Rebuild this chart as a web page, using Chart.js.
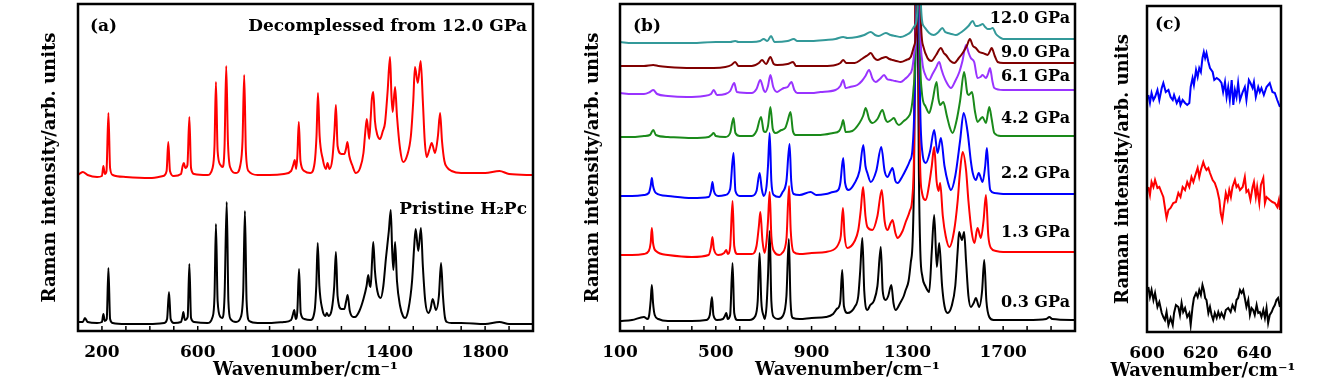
<!DOCTYPE html>
<html>
<head>
<meta charset="utf-8">
<script src="https://cdn.jsdelivr.net/npm/chart.js@4.4.0/dist/chart.umd.min.js"></script>
<style>
  body { margin: 0; background: #fff; width: 1339px; height: 386px; position: relative; overflow: hidden; }
  canvas { position: absolute; top: 0; }
</style>
</head>
<body>
<canvas id="chartA" width="540" height="386" style="left:0px"></canvas>
<canvas id="chartB" width="540" height="386" style="left:545px"></canvas>
<canvas id="chartC" width="249" height="386" style="left:1090px"></canvas>
<script>
// spectra: [wavenumber, height above the bottom of the frame]

// panel (a)
const decompressed = [[100,156],[120,159],[140,156],[180,154],[200,155],[206,165],[212,157],[219,160],[227,218],[234,163],[245,156],[300,154],[400,153],[455,155],[470,160],[477,189],[484,160],[500,155],[530,157],[537,165],[542,168],[548,163],[557,166],[565,214],[572,163],[585,157],[640,156],[662,163],[670,185],[676,249],[683,180],[695,166],[704,164],[712,185],[719,265],[726,190],[735,164],[760,158],[778,166],[787,190],[794,256],[801,180],[812,160],[850,156],[900,156],[960,157],[990,160],[1000,167],[1005,171],[1011,162],[1016,175],[1022,209],[1029,170],[1045,160],[1070,158],[1088,168],[1096,195],[1102,238],[1109,195],[1122,172],[1135,162],[1142,168],[1150,162],[1162,172],[1171,200],[1177,226],[1184,185],[1200,177],[1212,177],[1219,182],[1225,189],[1233,175],[1245,166],[1260,158],[1278,163],[1292,178],[1300,200],[1306,212],[1316,192],[1322,212],[1327,232],[1333,239],[1340,210],[1350,196],[1361,192],[1373,200],[1382,208],[1393,240],[1403,274],[1409,235],[1414,219],[1424,244],[1432,215],[1445,182],[1458,169],[1475,176],[1490,195],[1500,230],[1507,264],[1519,248],[1531,270],[1540,230],[1548,190],[1556,174],[1568,182],[1577,188],[1591,178],[1603,195],[1612,218],[1620,190],[1630,170],[1640,164],[1660,160],[1700,158],[1800,158],[1860,160],[1900,157],[2000,156]];
const pristine = [[100,9],[120,9],[129,13],[140,9],[180,8],[200,9],[206,17],[212,10],[220,12],[227,63],[234,12],[245,8],[300,7],[400,7],[460,8],[472,12],[480,39],[487,12],[500,8],[530,9],[536,14],[540,19],[546,11],[558,14],[565,67],[572,13],[585,9],[640,8],[662,14],[670,35],[676,107],[683,30],[695,14],[703,13],[712,35],[721,129],[728,30],[737,12],[760,9],[780,14],[790,40],[797,120],[804,30],[815,10],[850,8],[900,8],[960,9],[990,11],[998,17],[1003,21],[1009,12],[1016,20],[1023,62],[1030,18],[1045,12],[1070,11],[1088,20],[1095,45],[1101,88],[1108,45],[1120,22],[1133,15],[1139,18],[1146,15],[1160,22],[1170,45],[1177,79],[1184,35],[1200,22],[1212,22],[1220,30],[1226,36],[1235,20],[1250,14],[1257,14],[1275,20],[1292,32],[1305,45],[1312,56],[1318,46],[1322,44],[1328,70],[1333,89],[1340,60],[1350,40],[1364,33],[1375,45],[1386,73],[1398,100],[1406,121],[1412,80],[1417,61],[1424,89],[1432,50],[1445,25],[1457,15],[1466,13],[1480,22],[1495,50],[1504,85],[1510,102],[1521,80],[1532,103],[1540,65],[1550,30],[1563,18],[1572,22],[1581,32],[1595,21],[1607,35],[1616,68],[1624,35],[1632,14],[1640,9],[1660,8],[1700,8],[1800,7],[1860,9],[1900,7],[2000,7]];

// panel (b), one spectrum per pressure
const gpa03 = [[100,10],[150,11],[200,14],[215,12],[222,16],[228,30],[233,46],[238,28],[245,16],[260,12],[300,10],[400,10],[460,11],[475,16],[484,34],[490,16],[505,11],[530,12],[538,15],[544,18],[550,12],[560,16],[570,68],[577,18],[590,11],[640,11],[665,15],[675,30],[683,78],[690,30],[700,15],[705,12],[712,25],[718,55],[725,100],[732,30],[742,14],[760,12],[780,15],[795,35],[805,92],[812,30],[822,13],[850,12],[900,13],[960,14],[990,17],[1005,22],[1014,24],[1020,30],[1028,61],[1035,25],[1050,18],[1080,24],[1095,35],[1103,60],[1112,93],[1120,40],[1133,21],[1145,26],[1160,30],[1175,45],[1189,84],[1197,40],[1210,31],[1220,35],[1233,46],[1242,28],[1251,21],[1270,28],[1285,35],[1293,41],[1305,50],[1314,68],[1322,90],[1328,160],[1333,330],[1338,600],[1343,330],[1348,160],[1354,80],[1363,54],[1375,45],[1391,39],[1402,80],[1412,116],[1423,64],[1433,88],[1445,45],[1455,25],[1468,18],[1485,25],[1500,45],[1510,80],[1516,99],[1528,91],[1537,99],[1545,70],[1555,35],[1565,24],[1577,28],[1586,33],[1600,24],[1612,40],[1621,71],[1630,30],[1642,14],[1660,11],[1700,11],[1800,11],[1880,12],[1893,14],[1905,12],[2000,11]];
const gpa13 = [[100,76],[150,76],[200,77],[220,80],[228,88],[233,103],[238,88],[250,80],[300,76],[400,74],[470,76],[480,84],[486,94],[492,82],[510,76],[535,78],[544,81],[550,77],[560,84],[570,130],[577,85],[590,77],[650,77],[670,85],[680,105],[686,119],[695,90],[704,78],[712,90],[718,110],[725,139],[732,95],[745,79],[765,76],[777,78],[795,92],[806,145],[813,100],[825,79],[850,77],[900,78],[960,79],[990,81],[1005,84],[1014,88],[1022,95],[1031,123],[1038,95],[1049,83],[1080,90],[1095,101],[1105,120],[1115,144],[1125,115],[1133,104],[1154,101],[1175,115],[1193,141],[1205,110],[1217,101],[1230,108],[1238,111],[1250,98],[1259,93],[1280,100],[1293,109],[1310,120],[1321,134],[1328,180],[1334,330],[1340,600],[1346,330],[1352,180],[1360,140],[1377,131],[1390,145],[1402,165],[1412,184],[1422,150],[1430,140],[1437,148],[1448,115],[1460,95],[1475,84],[1495,100],[1510,130],[1520,160],[1531,179],[1545,161],[1555,130],[1568,100],[1580,88],[1593,103],[1607,93],[1618,110],[1628,136],[1638,95],[1649,83],[1670,80],[1700,79],[1800,79],[1900,79],[2000,79]];
const gpa22 = [[100,135],[150,135],[200,136],[220,138],[228,145],[233,153],[238,145],[250,138],[300,135],[400,133],[470,134],[480,140],[486,149],[492,140],[510,135],[540,136],[560,142],[574,178],[582,140],[600,135],[650,135],[670,140],[683,158],[692,142],[700,135],[712,145],[718,165],[725,198],[732,150],[742,136],[765,134],[777,138],[795,150],[808,187],[815,150],[825,137],[850,136],[896,139],[920,136],[960,137],[990,139],[1011,141],[1020,148],[1032,173],[1040,148],[1055,141],[1080,148],[1100,160],[1116,186],[1125,165],[1133,158],[1147,149],[1170,160],[1191,184],[1205,160],[1217,154],[1230,160],[1238,163],[1250,150],[1259,148],[1280,155],[1293,161],[1310,170],[1321,181],[1330,230],[1336,330],[1342,600],[1348,330],[1354,220],[1362,180],[1377,168],[1395,180],[1412,201],[1426,178],[1440,193],[1455,165],[1470,148],[1482,141],[1500,155],[1520,190],[1535,218],[1552,198],[1565,170],[1573,158],[1586,151],[1598,158],[1614,149],[1625,165],[1632,183],[1640,155],[1646,141],[1665,138],[1700,137],[1800,137],[1900,137],[2000,137]];
const gpa42 = [[100,194],[150,194],[200,195],[225,196],[239,201],[250,196],[300,194],[400,193],[470,194],[482,196],[491,198],[500,195],[540,194],[560,198],[574,213],[582,198],[600,195],[650,195],[670,200],[689,214],[700,200],[707,199],[718,205],[728,224],[738,202],[749,198],[774,201],[790,203],[800,210],[812,219],[822,200],[833,196],[900,196],[937,196],[990,198],[1015,200],[1025,205],[1032,211],[1042,199],[1070,200],[1100,208],[1115,215],[1126,223],[1140,212],[1154,208],[1175,212],[1196,221],[1208,212],[1217,209],[1232,211],[1244,213],[1255,208],[1265,206],[1285,210],[1300,213],[1315,220],[1325,240],[1338,330],[1344,600],[1350,330],[1360,240],[1375,225],[1391,218],[1405,230],[1422,249],[1430,232],[1437,226],[1450,229],[1465,215],[1478,203],[1489,198],[1505,210],[1520,230],[1537,259],[1550,238],[1556,236],[1570,239],[1582,220],[1593,209],[1605,212],[1614,214],[1628,208],[1642,224],[1652,212],[1663,198],[1690,195],[1800,195],[1900,195],[2000,195]];
const gpa61 = [[100,238],[150,237],[200,237],[225,239],[239,241],[255,237],[300,235],[379,234],[450,235],[480,237],[491,241],[505,236],[540,237],[560,240],[577,248],[588,239],[650,238],[670,242],[686,251],[700,241],[707,239],[718,245],[728,256],[740,244],[756,239],[770,241],[784,243],[800,244],[816,249],[828,241],[840,238],[900,238],[937,239],[1000,241],[1020,245],[1032,251],[1042,243],[1060,244],[1091,246],[1110,250],[1125,255],[1140,261],[1155,252],[1168,249],[1185,252],[1203,256],[1215,252],[1231,251],[1250,250],[1272,249],[1290,252],[1307,256],[1320,262],[1330,280],[1340,330],[1346,600],[1352,330],[1362,270],[1375,256],[1391,251],[1405,257],[1419,263],[1433,269],[1442,262],[1450,256],[1465,248],[1482,243],[1500,250],[1517,259],[1530,270],[1545,286],[1556,278],[1565,273],[1579,269],[1593,253],[1605,254],[1614,256],[1628,253],[1638,258],[1645,263],[1655,250],[1663,243],[1700,241],[1800,241],[1900,241],[2000,241]];
const gpa90 = [[100,265],[150,265],[200,265],[239,266],[260,265],[300,264],[400,263],[491,263],[540,264],[565,266],[581,269],[595,265],[650,265],[680,268],[693,271],[710,267],[728,274],[742,267],[756,266],[800,267],[823,269],[835,265],[900,265],[950,265],[1000,266],[1020,268],[1032,271],[1045,268],[1080,268],[1110,272],[1135,276],[1147,278],[1162,273],[1175,271],[1195,273],[1210,274],[1225,272],[1238,271],[1255,270],[1272,269],[1295,271],[1314,274],[1328,285],[1342,330],[1348,600],[1354,330],[1366,285],[1384,273],[1400,270],[1420,276],[1440,283],[1452,278],[1461,276],[1480,270],[1496,268],[1515,273],[1531,278],[1548,285],[1561,292],[1574,285],[1586,283],[1600,279],[1614,278],[1625,277],[1635,276],[1645,280],[1652,283],[1665,275],[1677,269],[1700,268],[1800,268],[1900,268],[2000,268]];
const gpa120 = [[100,289],[150,288],[200,288],[300,288],[400,288],[500,289],[560,289],[581,290],[595,289],[650,289],[685,290],[700,292],[715,290],[731,295],[745,289],[800,290],[826,292],[840,290],[900,290],[960,291],[1000,292],[1032,294],[1050,293],[1090,294],[1120,296],[1147,299],[1165,296],[1180,295],[1210,298],[1230,296],[1250,295],[1272,294],[1295,296],[1314,299],[1330,305],[1344,330],[1350,600],[1356,330],[1368,305],[1391,298],[1410,296],[1430,299],[1446,303],[1458,299],[1468,298],[1485,297],[1503,296],[1520,298],[1537,301],[1555,305],[1573,310],[1585,305],[1593,305],[1605,306],[1614,307],[1625,304],[1635,302],[1645,302],[1656,303],[1670,297],[1684,294],[1700,292],[1800,292],[1900,292],[2000,292]];
const pressureLabels = ['12.0 GPa', '9.0 GPa', '6.1 GPa', '4.2 GPa', '2.2 GPa', '1.3 GPa', '0.3 GPa'];

// panel (c), zoom on 600-650
const zoomBlue = [[600.5,237],[601.1,229],[601.7,239],[602.4,232],[603.0,235],[603.9,242],[604.6,232],[605.5,244],[606.1,249],[607.0,240],[608.0,242],[608.8,235],[609.6,232],[610.1,237],[611.1,229],[612.0,234],[612.5,227],[613.3,232],[614.2,229],[615.0,227],[615.8,229],[616.3,245],[617.0,254],[617.5,247],[618.3,262],[618.9,255],[619.5,264],[620.1,260],[620.7,274],[621.2,280],[621.7,274],[622.2,279],[622.9,270],[623.5,264],[624.5,260],[625.1,252],[626.0,254],[627.0,252],[627.8,249],[628.4,240],[629.1,250],[629.7,235],[630.3,245],[630.9,232],[631.6,252],[632.2,227],[632.8,242],[633.4,235],[634.0,249],[634.7,232],[635.7,240],[636.5,245],[637.1,232],[638.0,252],[638.6,249],[639.4,244],[639.9,250],[640.6,235],[641.5,245],[642.1,240],[642.7,244],[643.6,237],[644.6,245],[645.8,249],[646.8,240],[647.7,239],[648.6,232],[649.6,225]];
const zoomRed = [[600.5,145],[601.1,137],[601.7,150],[602.4,145],[603.0,152],[603.9,144],[604.6,145],[605.5,139],[606.1,135],[607.0,119],[607.3,114],[608.0,122],[608.8,124],[609.8,129],[610.8,130],[611.7,139],[612.5,135],[613.3,145],[614.2,142],[615.0,150],[615.8,145],[616.6,155],[617.3,150],[618.3,159],[618.9,164],[619.5,155],[620.1,162],[621.0,170],[621.6,165],[622.2,162],[622.9,164],[623.5,159],[624.5,152],[625.3,149],[626.2,142],[627.0,132],[627.5,119],[628.1,112],[628.7,125],[629.4,139],[630.1,132],[630.7,142],[631.3,135],[631.9,145],[632.8,152],[633.4,145],[634.0,147],[634.7,142],[635.7,145],[636.5,155],[637.1,140],[637.8,142],[638.6,132],[639.4,145],[639.9,150],[640.6,135],[641.1,145],[641.9,129],[642.5,147],[643.4,154],[644.0,129],[644.6,135],[645.8,132],[646.8,130],[647.7,129],[648.6,125],[649.2,132],[649.6,122]];
const zoomBlack = [[600.5,45],[601.1,35],[601.7,42],[602.4,32],[603.0,39],[603.9,25],[604.6,30],[605.5,19],[606.1,15],[606.7,12],[607.3,20],[608.0,7],[608.8,14],[609.6,7],[610.1,19],[610.8,27],[611.7,25],[612.3,17],[612.9,29],[613.5,20],[614.2,24],[615.0,15],[615.8,19],[616.3,7],[617.0,25],[617.5,34],[618.3,39],[618.9,35],[619.5,42],[620.1,37],[620.7,47],[621.2,42],[621.7,34],[622.2,32],[622.9,19],[623.5,25],[624.1,17],[624.7,12],[625.3,19],[626.0,14],[626.6,20],[627.2,15],[627.8,19],[628.7,14],[629.4,22],[630.3,24],[631.2,20],[631.9,27],[632.8,22],[633.4,32],[634.0,34],[634.7,42],[635.3,39],[635.9,42],[636.5,34],[637.1,25],[637.8,32],[638.4,17],[639.0,24],[639.6,22],[640.2,17],[640.9,27],[641.5,19],[642.1,20],[642.7,15],[643.4,22],[644.0,14],[644.6,24],[645.2,9],[645.8,17],[646.5,20],[647.1,24],[647.7,27],[648.3,32],[648.9,34],[649.6,25]];

const tickLabelsA = [200, 600, 1000, 1400, 1800];
const tickLabelsB = [100, 500, 900, 1300, 1700];
const tickLabelsC = [600, 620, 640];
const xTitle = 'Wavenumber/cm⁻¹';
const yTitle = 'Raman intensity/arb. units';

Chart.defaults.font.family = '"DejaVu Serif", serif';
Chart.defaults.font.weight = 'bold';
Chart.defaults.color = '#000';

function toXY(arr) {
  return arr.map(p => ({ x: p[0], y: p[1] }));
}

// box round the plot, small inward ticks, panel texts
const framePlugin = {
  id: 'frame',
  afterDatasetsDraw(chart, args, opts) {
    const ctx = chart.ctx;
    const a = chart.chartArea;
    const xs = chart.scales.x;
    ctx.save();
    ctx.strokeStyle = '#000';
    if (opts.minorTicks) {
      ctx.lineWidth = 1.5;
      xs.ticks.forEach(t => {
        const px = xs.getPixelForValue(t.value);
        if (px <= a.left + 3 || px >= a.right - 3) return;
        ctx.beginPath();
        ctx.moveTo(px, a.bottom);
        ctx.lineTo(px, a.bottom - 5);
        ctx.stroke();
      });
    }
    ctx.lineWidth = 2.5;
    ctx.strokeRect(a.left, a.top, a.right - a.left, a.bottom - a.top);
    ctx.fillStyle = '#000';
    (opts.notes || []).forEach(n => {
      ctx.font = 'bold ' + n.size + 'px "DejaVu Serif"';
      ctx.textAlign = n.align;
      ctx.textBaseline = 'alphabetic';
      ctx.fillText(n.text, n.x, n.y);
    });
    ctx.restore();
  }
};

function makePanel(id, o) {
  return new Chart(document.getElementById(id), {
    type: 'line',
    data: {
      datasets: o.series.map(s => ({
        data: toXY(s.data),
        borderColor: s.color,
        borderWidth: 2,
        pointRadius: 0,
        fill: false,
        cubicInterpolationMode: o.smooth ? 'monotone' : 'default',
        tension: 0
      }))
    },
    options: {
      responsive: false,
      animation: false,
      devicePixelRatio: 1,
      layout: { padding: o.pad },
      plugins: {
        legend: { display: false },
        tooltip: { enabled: false },
        frame: { minorTicks: o.minorTicks, notes: o.notes }
      },
      scales: {
        x: {
          type: 'linear',
          min: o.xmin,
          max: o.xmax,
          afterFit: s => { s.height = o.xh; },
          grid: { display: false },
          border: { display: false },
          ticks: {
            stepSize: o.step,
            autoSkip: false,
            maxRotation: 0,
            padding: 3,
            font: { size: 17, weight: 'bold' },
            color: '#000',
            callback: v => o.labels.includes(v) ? String(v) : ''
          },
          title: {
            display: o.axisTitle,
            text: xTitle,
            font: { size: 18, weight: 'bold' },
            color: '#000',
            padding: { top: 0, bottom: 5 }
          }
        },
        y: {
          min: 0,
          max: o.ymax,
          afterFit: s => { s.width = o.yw; },
          grid: { display: false },
          border: { display: false },
          ticks: { display: false },
          title: {
            display: true,
            text: yTitle,
            font: { size: 18, weight: 'bold' },
            color: '#000',
            padding: { top: o.ytitle, bottom: 0 }
          }
        }
      }
    },
    plugins: [framePlugin]
  });
}

makePanel('chartA', {
  series: [
    { data: decompressed, color: '#ff0000' },
    { data: pristine, color: '#000000' }
  ],
  smooth: true, xmin: 100, xmax: 2000, step: 100, labels: tickLabelsA, axisTitle: true,
  ymax: 327, pad: { left: 0, right: 7, top: 4, bottom: 0 }, xh: 55, yw: 78, ytitle: 40,
  minorTicks: true,
  notes: [
    { text: '(a)', x: 90, y: 31, align: 'left', size: 17 },
    { text: 'Decomplessed from 12.0 GPa', x: 527, y: 31, align: 'right', size: 17 },
    { text: 'Pristine H₂Pc', x: 527, y: 214, align: 'right', size: 17 }
  ]
});

makePanel('chartB', {
  series: [
    { data: gpa120, color: '#339999' },
    { data: gpa90, color: '#800000' },
    { data: gpa61, color: '#9933ff' },
    { data: gpa42, color: '#1a8a1a' },
    { data: gpa22, color: '#0000ff' },
    { data: gpa13, color: '#ff0000' },
    { data: gpa03, color: '#000000' }
  ],
  smooth: true, xmin: 100, xmax: 2000, step: 100, labels: tickLabelsB, axisTitle: true,
  ymax: 327, pad: { left: 0, right: 10, top: 4, bottom: 0 }, xh: 55, yw: 75, ytitle: 38,
  minorTicks: true,
  notes: [
    { text: '(b)', x: 88, y: 31, align: 'left', size: 17 },
    { text: pressureLabels[0], x: 525, y: 23, align: 'right', size: 16 },
    { text: pressureLabels[1], x: 525, y: 57, align: 'right', size: 16 },
    { text: pressureLabels[2], x: 525, y: 81, align: 'right', size: 16 },
    { text: pressureLabels[3], x: 525, y: 123, align: 'right', size: 16 },
    { text: pressureLabels[4], x: 525, y: 178, align: 'right', size: 16 },
    { text: pressureLabels[5], x: 525, y: 237, align: 'right', size: 16 },
    { text: pressureLabels[6], x: 525, y: 307, align: 'right', size: 16 }
  ]
});

// panel (c) is narrower than its axis title, so the title is written by the plugin
makePanel('chartC', {
  series: [
    { data: zoomBlue, color: '#0000ff' },
    { data: zoomRed, color: '#ff0000' },
    { data: zoomBlack, color: '#000000' }
  ],
  smooth: false, xmin: 600, xmax: 650, step: 10, labels: tickLabelsC, axisTitle: false,
  ymax: 326, pad: { left: 0, right: 58, top: 6, bottom: 0 }, xh: 54, yw: 57, ytitle: 23,
  minorTicks: false,
  notes: [
    { text: '(c)', x: 65, y: 29, align: 'left', size: 17 },
    { text: xTitle, x: 113, y: 376, align: 'center', size: 18 }
  ]
});
</script>
</body>
</html>
